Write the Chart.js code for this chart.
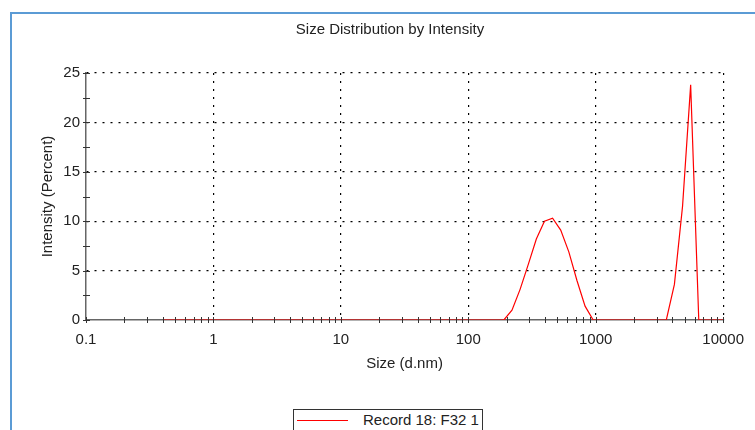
<!DOCTYPE html>
<html>
<head>
<meta charset="utf-8">
<script src="https://cdn.jsdelivr.net/npm/chart.js@4/dist/chart.umd.min.js"></script>
<style>
  html, body { margin: 0; padding: 0; background: #fff; overflow: hidden; }
  #wrap { position: relative; width: 755px; height: 430px; }
  #frame {
    position: absolute; left: 10px; top: 12px; width: 800px; height: 500px;
    border-left: 2px solid #5b9bd5; border-top: 2px solid #5b9bd5;
  }
  #chart { position: absolute; left: 0; top: 0; }
  #legend {
    position: absolute; left: 293px; top: 409px; width: 188px; height: 40px;
    border: 1px solid #333; background: #fff;
    font: 15px "Liberation Sans", Arial, sans-serif; color: #222;
  }
  #legend .swatch { position: absolute; left: 3px; top: 10px; width: 51px; height: 1px; }
  #legend .text { position: absolute; left: 69px; top: 1px; white-space: nowrap; }
</style>
</head>
<body>
<div id="wrap">
  <div id="frame"></div>
  <canvas id="chart" width="755" height="430"></canvas>
  <div id="legend"></div>
</div>
<script>
// Size classes (d.nm) of the distribution
const sizes = [
  0.4, 0.4632, 0.5365, 0.6213, 0.7195, 0.8332, 0.9649, 1.117, 1.294, 1.499,
  1.736, 2.010, 2.328, 2.696, 3.122, 3.615, 4.187, 4.849, 5.615, 6.503,
  7.531, 8.721, 10.10, 11.70, 13.54, 15.69, 18.17, 21.04, 24.36, 28.21,
  32.67, 37.84, 43.82, 50.75, 58.77, 68.06, 78.82, 91.28, 105.7, 122.4,
  141.8, 164.2, 190.1, 220.2, 255.0, 295.3, 342.0, 396.1, 458.7, 531.2,
  615.1, 712.4, 825.0, 955.4, 1106, 1281, 1484, 1718, 1990, 2305,
  2669, 3091, 3580, 4145, 4801, 5560, 6439, 7456, 8635, 10000
];

// Intensity (%) for each size class
const intensity = [
  0, 0, 0, 0, 0, 0, 0, 0, 0, 0,
  0, 0, 0, 0, 0, 0, 0, 0, 0, 0,
  0, 0, 0, 0, 0, 0, 0, 0, 0, 0,
  0, 0, 0, 0, 0, 0, 0, 0, 0, 0,
  0, 0, 0, 1.0, 3.1, 5.6, 8.2, 10.0, 10.3, 9.1,
  6.9, 4.0, 1.4, 0, 0, 0, 0, 0, 0, 0,
  0, 0, 0, 3.6, 11.5, 23.8, 0, 0, 0, 0
];

const seriesLabel = 'Record 18: F32 1';
const xTickValues = [0.1, 1, 10, 100, 1000, 10000];
const xTickLabels = ['0.1', '1', '10', '100', '1000', '10000'];
const yTickValues = [0, 5, 10, 15, 20, 25];
const yTickLabels = ['0', '5', '10', '15', '20', '25'];

const FONT = '"Liberation Sans", Arial, sans-serif';
const TEXT = '#222';

// Short tick marks that cross both axes (minor log ticks on x, 2.5 steps on y)
const crossTicks = {
  id: 'crossTicks',
  afterDatasetsDraw(chart) {
    const ctx = chart.ctx;
    const xs = chart.scales.x, ys = chart.scales.y;
    const y0 = ys.getPixelForValue(0);
    const x0 = xs.getPixelForValue(xs.min);
    ctx.save();
    ctx.strokeStyle = '#333';
    ctx.lineWidth = 1;
    ctx.beginPath();
    for (let d = xs.min; d < xs.max * 0.999; d *= 10) {
      for (let m = 1; m <= 9; m++) {
        const px = Math.round(xs.getPixelForValue(d * m)) + 0.5;
        ctx.moveTo(px, y0 - 3);
        ctx.lineTo(px, y0 + 3);
      }
    }
    const pEnd = Math.round(xs.getPixelForValue(xs.max)) + 0.5;
    ctx.moveTo(pEnd, y0 - 3);
    ctx.lineTo(pEnd, y0 + 3);
    for (let v = ys.min; v <= ys.max + 1e-9; v += 2.5) {
      const py = Math.round(ys.getPixelForValue(v)) + 0.5;
      ctx.moveTo(x0 - 3, py);
      ctx.lineTo(x0 + 4, py);
    }
    ctx.stroke();
    ctx.restore();
  }
};

// Boxed legend built from the dataset
const htmlLegend = {
  id: 'htmlLegend',
  afterUpdate(chart) {
    const box = document.getElementById('legend');
    box.innerHTML = '';
    chart.data.datasets.forEach(ds => {
      const sw = document.createElement('span');
      sw.className = 'swatch';
      sw.style.background = ds.borderColor;
      const tx = document.createElement('span');
      tx.className = 'text';
      tx.textContent = ds.label;
      box.appendChild(sw);
      box.appendChild(tx);
    });
  }
};

new Chart(document.getElementById('chart'), {
  type: 'line',
  data: {
    datasets: [{
      label: seriesLabel,
      data: sizes.map((s, i) => ({ x: s, y: intensity[i] })),
      borderColor: '#ff0000',
      borderWidth: 1.2,
      pointRadius: 0,
      tension: 0,
      fill: false
    }]
  },
  options: {
    responsive: false,
    animation: false,
    events: [],
    layout: { padding: { left: 53, right: 28, top: 0, bottom: 58 } },
    plugins: {
      legend: { display: false },
      tooltip: { enabled: false },
      title: {
        display: true,
        text: 'Size Distribution by Intensity',
        color: TEXT,
        font: { family: FONT, size: 15, weight: 'normal' },
        padding: { top: 21, bottom: 34 }
      }
    },
    scales: {
      x: {
        type: 'logarithmic',
        min: 0.1,
        max: 10000,
        afterBuildTicks: s => { s.ticks = xTickValues.map(v => ({ value: v })); },
        afterFit: s => { s.height = 52; },
        ticks: {
          autoSkip: false,
          maxRotation: 0,
          padding: 11,
          color: TEXT,
          font: { family: FONT, size: 15 },
          callback: (v, i) => xTickLabels[i]
        },
        grid: {
          color: c => (c.index === 0 ? 'rgba(0,0,0,0)' : '#000'),
          lineWidth: 1.2,
          drawTicks: false
        },
        border: { display: true, color: '#666', width: 1.5, dash: [2, 6] },
        title: {
          display: true,
          text: 'Size (d.nm)',
          color: TEXT,
          font: { family: FONT, size: 15 },
          padding: { top: 0, bottom: -1 }
        }
      },
      y: {
        type: 'linear',
        min: 0,
        max: 25,
        afterBuildTicks: s => { s.ticks = yTickValues.map(v => ({ value: v })); },
        afterFit: s => { s.width = 33; },
        ticks: {
          padding: 6,
          color: TEXT,
          font: { family: FONT, size: 15 },
          callback: (v, i) => yTickLabels[i]
        },
        grid: {
          color: c => (c.index === 0 ? 'rgba(0,0,0,0)' : '#000'),
          lineWidth: 1.2,
          drawTicks: false
        },
        border: { display: true, color: '#666', width: 1.5, dash: [2, 6] },
        title: {
          display: true,
          text: 'Intensity (Percent)',
          color: TEXT,
          font: { family: FONT, size: 15 },
          padding: { top: -14, bottom: 0 }
        }
      }
    }
  },
  plugins: [crossTicks, htmlLegend]
});
</script>
</body>
</html>
